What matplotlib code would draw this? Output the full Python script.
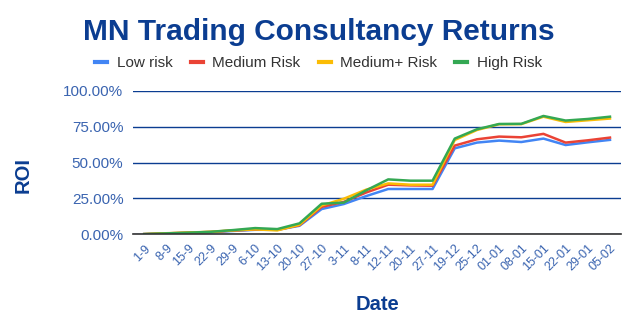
import matplotlib
matplotlib.use("Agg")
import matplotlib.pyplot as plt
from matplotlib.ticker import PercentFormatter

plt.rcParams['font.family'] = ['Liberation Sans', 'DejaVu Sans']

dates = ["1-9", "8-9", "15-9", "22-9", "29-9", "6-10", "13-10", "20-10", "27-10",
         "3-11", "8-11", "12-11", "20-11", "27-11", "19-12", "25-12", "01-01",
         "08-01", "15-01", "22-01", "29-01", "05-02"]

low_risk = [0.0, 0.4, 0.8, 1.3, 2.2, 3.0, 3.0, 5.8, 17.5, 21.0, 26.5, 31.5, 31.5,
            31.5, 59.9, 63.9, 65.3, 64.3, 66.7, 62.2, 64.1, 65.8]
medium_risk = [0.0, 0.5, 1.0, 1.5, 2.5, 3.2, 3.0, 6.2, 19.0, 22.5, 29.0, 34.5, 34.0,
               33.8, 61.8, 66.2, 68.1, 67.6, 70.0, 63.9, 65.5, 67.4]
medium_plus_risk = [0.0, 0.6, 1.1, 1.6, 2.6, 3.3, 2.6, 6.5, 20.0, 24.7, 31.0, 35.4,
                    34.5, 34.5, 65.7, 72.7, 76.7, 76.8, 82.0, 78.3, 79.5, 80.7]
high_risk = [0.0, 0.5, 1.0, 1.6, 2.8, 4.2, 3.5, 7.5, 21.2, 22.0, 30.5, 38.2, 37.3,
             37.3, 66.7, 73.2, 76.9, 77.0, 82.5, 79.3, 80.4, 82.0]

series = [
    ("Low risk", low_risk, "#4285F4"),
    ("Medium Risk", medium_risk, "#EA4335"),
    ("Medium+ Risk", medium_plus_risk, "#FBBC04"),
    ("High Risk", high_risk, "#34A853"),
]

title_color = "#0b3d91"
tick_color = "#3a64b0"

fig = plt.figure(figsize=(6.37, 3.33), dpi=100)
ax = fig.add_axes([0.209, 0.297, 0.766, 0.430])

x = list(range(len(dates)))
for name, vals, col in series:
    ax.plot(x, vals, color=col, lw=1.8, label=name, solid_joinstyle='round')

ax.set_xlim(-0.5, len(dates) - 0.5)
ax.set_ylim(0, 100)
ax.set_yticks([0, 25, 50, 75, 100])
ax.yaxis.set_major_formatter(PercentFormatter(decimals=2))
ax.grid(axis='y', color=title_color, lw=1.0)
ax.set_axisbelow(True)
for s in ['top', 'right', 'left']:
    ax.spines[s].set_visible(False)
ax.spines['bottom'].set_color('#333333')
ax.spines['bottom'].set_linewidth(1.2)
ax.tick_params(axis='both', length=0, colors=tick_color)
ax.tick_params(axis='y', labelsize=11, pad=7)
ax.set_xticks(x)
ax.set_xticklabels(dates, rotation=45, ha='right', rotation_mode='anchor', fontsize=9)
ax.tick_params(axis='x', pad=6)

fig.text(0.5, 0.905, "MN Trading Consultancy Returns", ha='center', va='center',
         fontsize=21.5, fontweight='bold', color=title_color)
fig.text(0.036, 0.475, "ROI", rotation=90, ha='center', va='center',
         fontsize=14.5, fontweight='bold', color=title_color)
fig.text(0.593, 0.087, "Date", ha='center', va='center',
         fontsize=14.5, fontweight='bold', color=title_color)

leg = fig.legend(loc='center', bbox_to_anchor=(0.5, 0.81), ncol=4, frameon=False,
                 fontsize=11, handlelength=0.8, handletextpad=0.6, columnspacing=1.2)
for h in leg.get_lines():
    h.set_linewidth(3.0)
for t in leg.get_texts():
    t.set_color('#333333')

fig.savefig("out.png", dpi=100)
